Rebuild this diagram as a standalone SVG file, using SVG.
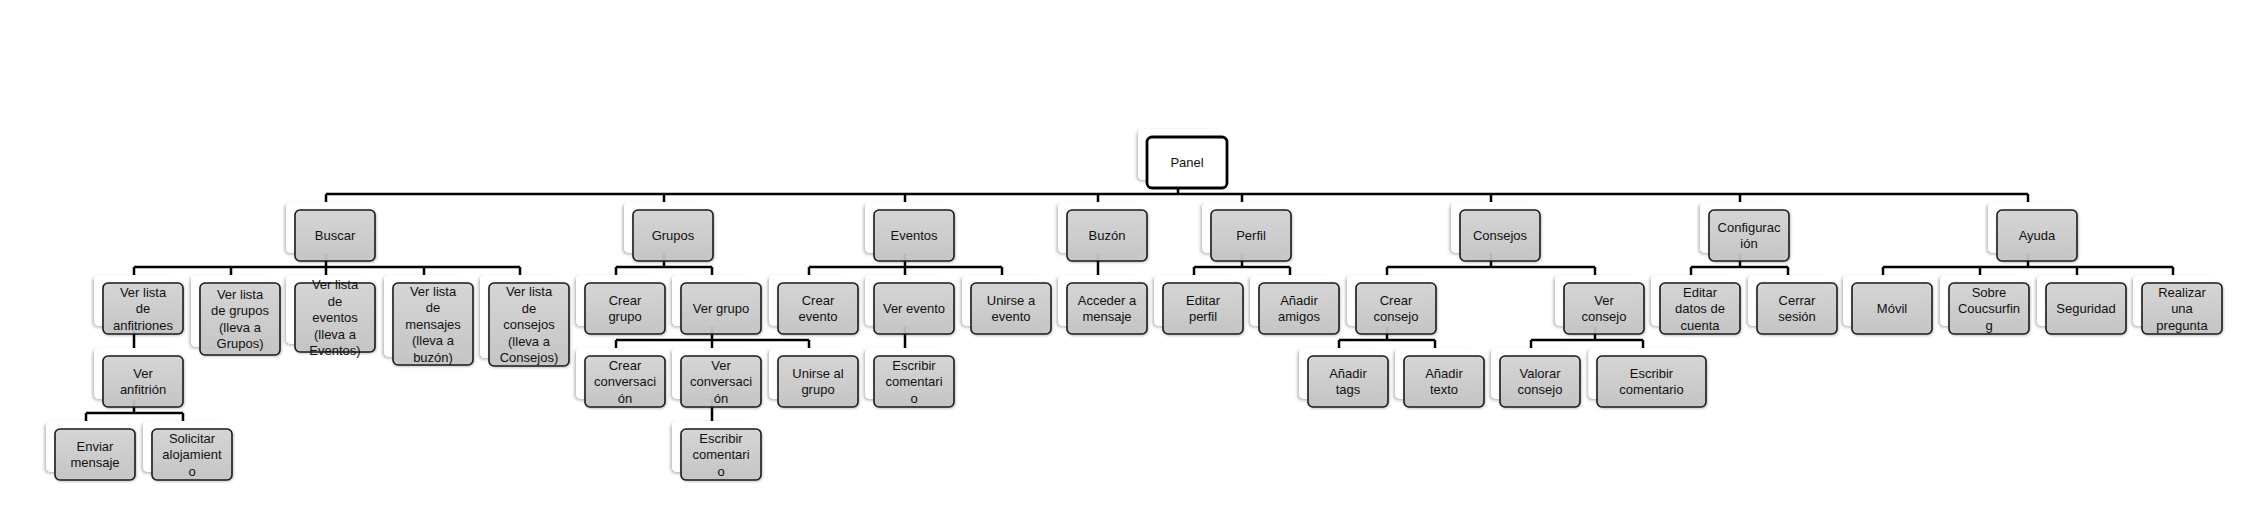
<svg xmlns="http://www.w3.org/2000/svg" width="2246" height="508" viewBox="0 0 2246 508">
<defs>
<linearGradient id="gf" x1="0" y1="0" x2="0" y2="1">
<stop offset="0" stop-color="#d4d4d4"/>
<stop offset="1" stop-color="#c3c3c3"/>
</linearGradient>
<filter id="sh" x="-20%" y="-20%" width="140%" height="140%">
<feDropShadow dx="-1.5" dy="1.5" stdDeviation="1.8" flood-color="#000" flood-opacity="0.28"/>
</filter>
<filter id="sh2" x="-20%" y="-20%" width="140%" height="140%">
<feDropShadow dx="0.8" dy="1" stdDeviation="0.8" flood-color="#000" flood-opacity="0.25"/>
</filter>
</defs>
<style>
.bk{fill:#fff;filter:url(#sh)}
.fr{fill:url(#gf);fill-opacity:0.93;stroke:#1c1c1c;stroke-width:1.6;filter:url(#sh2)}
.pn{fill:#fff;stroke:#000;stroke-width:2.8}
.t{font-family:"Liberation Sans",Arial,sans-serif;font-size:13px;fill:#111;text-anchor:middle}
.c{fill:none;stroke:#000;stroke-width:2.5}
</style>
<rect width="2246" height="508" fill="#fff"/>
<g id="connectors" class="c">
<path class="c" d="M1178 180V194M326 194H2028M326 194V202M664 194V202M905 194V202M1098 194V202M1242 194V202M1491 194V202M1740 194V202M2028 194V202"/>
<path class="c" d="M326 253V267M134 267H520M134 267V275M231 267V275M326 267V275M424 267V275M520 267V275"/>
<path class="c" d="M664 253V267M616 267H712M616 267V275M712 267V275"/>
<path class="c" d="M905 253V267M809 267H1002M809 267V275M905 267V275M1002 267V275"/>
<path class="c" d="M1098 253V275"/>
<path class="c" d="M1242 253V267M1194 267H1290M1194 267V275M1290 267V275"/>
<path class="c" d="M1491 253V267M1387 267H1595M1387 267V275M1595 267V275"/>
<path class="c" d="M1740 253V267M1691 267H1788M1691 267V275M1788 267V275"/>
<path class="c" d="M2028 253V267M1883 267H2173M1883 267V275M1980 267V275M2077 267V275M2173 267V275"/>
<path class="c" d="M134 326V348"/>
<path class="c" d="M712 326V340M616 340H809M616 340V348M712 340V348M809 340V348"/>
<path class="c" d="M905 326V348"/>
<path class="c" d="M1387 326V340M1339 340H1435M1339 340V348M1435 340V348"/>
<path class="c" d="M1595 326V340M1531 340H1643M1531 340V348M1643 340V348"/>
<path class="c" d="M134 399V413M86 413H183M86 413V421M183 413V421"/>
<path class="c" d="M712 399V421"/>
</g>
<g id="panel"><rect class="bk" x="1138" y="129" width="80" height="51" rx="5"/><rect class="pn" x="1147" y="137" width="80" height="51" rx="5"/><text class="t" x="1187" y="167">Panel</text></g>
<g id="buscar"><rect class="bk" x="286" y="202" width="80" height="51" rx="5"/><rect class="fr" x="295" y="210" width="80" height="51" rx="5"/><text class="t" x="335" y="240">Buscar</text></g>
<g id="grupos"><rect class="bk" x="624" y="202" width="80" height="51" rx="5"/><rect class="fr" x="633" y="210" width="80" height="51" rx="5"/><text class="t" x="673" y="240">Grupos</text></g>
<g id="eventos"><rect class="bk" x="865" y="202" width="80" height="51" rx="5"/><rect class="fr" x="874" y="210" width="80" height="51" rx="5"/><text class="t" x="914" y="240">Eventos</text></g>
<g id="buzon"><rect class="bk" x="1058" y="202" width="80" height="51" rx="5"/><rect class="fr" x="1067" y="210" width="80" height="51" rx="5"/><text class="t" x="1107" y="240">Buzón</text></g>
<g id="perfil"><rect class="bk" x="1202" y="202" width="80" height="51" rx="5"/><rect class="fr" x="1211" y="210" width="80" height="51" rx="5"/><text class="t" x="1251" y="240">Perfil</text></g>
<g id="consejos"><rect class="bk" x="1451" y="202" width="80" height="51" rx="5"/><rect class="fr" x="1460" y="210" width="80" height="51" rx="5"/><text class="t" x="1500" y="240">Consejos</text></g>
<g id="configuracion"><rect class="bk" x="1700" y="202" width="80" height="51" rx="5"/><rect class="fr" x="1709" y="210" width="80" height="51" rx="5"/><text class="t" x="1749" y="231.75">Configurac<tspan x="1749" dy="16.5">ión</tspan></text></g>
<g id="ayuda"><rect class="bk" x="1988" y="202" width="80" height="51" rx="5"/><rect class="fr" x="1997" y="210" width="80" height="51" rx="5"/><text class="t" x="2037" y="240">Ayuda</text></g>
<g id="ver-lista-anfitriones"><rect class="bk" x="94" y="275" width="80" height="51" rx="5"/><rect class="fr" x="103" y="283" width="80" height="51" rx="5"/><text class="t" x="143" y="296.5">Ver lista<tspan x="143" dy="16.5">de</tspan><tspan x="143" dy="16.5">anfitriones</tspan></text></g>
<g id="ver-lista-grupos"><rect class="bk" x="191" y="275" width="80" height="72" rx="5"/><rect class="fr" x="200" y="283" width="80" height="72" rx="5"/><text class="t" x="240" y="298.75">Ver lista<tspan x="240" dy="16.5">de grupos</tspan><tspan x="240" dy="16.5">(lleva a</tspan><tspan x="240" dy="16.5">Grupos)</tspan></text></g>
<g id="ver-lista-eventos"><rect class="bk" x="286" y="275" width="80" height="69" rx="5"/><rect class="fr" x="295" y="283" width="80" height="69" rx="5"/><text class="t" x="335" y="289">Ver lista<tspan x="335" dy="16.5">de</tspan><tspan x="335" dy="16.5">eventos</tspan><tspan x="335" dy="16.5">(lleva a</tspan><tspan x="335" dy="16.5">Eventos)</tspan></text></g>
<g id="ver-lista-mensajes"><rect class="bk" x="384" y="275" width="80" height="82" rx="5"/><rect class="fr" x="393" y="283" width="80" height="82" rx="5"/><text class="t" x="433" y="295.5">Ver lista<tspan x="433" dy="16.5">de</tspan><tspan x="433" dy="16.5">mensajes</tspan><tspan x="433" dy="16.5">(lleva a</tspan><tspan x="433" dy="16.5">buzón)</tspan></text></g>
<g id="ver-lista-consejos"><rect class="bk" x="480" y="275" width="80" height="83" rx="5"/><rect class="fr" x="489" y="283" width="80" height="83" rx="5"/><text class="t" x="529" y="296">Ver lista<tspan x="529" dy="16.5">de</tspan><tspan x="529" dy="16.5">consejos</tspan><tspan x="529" dy="16.5">(lleva a</tspan><tspan x="529" dy="16.5">Consejos)</tspan></text></g>
<g id="crear-grupo"><rect class="bk" x="576" y="275" width="80" height="51" rx="5"/><rect class="fr" x="585" y="283" width="80" height="51" rx="5"/><text class="t" x="625" y="304.75">Crear<tspan x="625" dy="16.5">grupo</tspan></text></g>
<g id="ver-grupo"><rect class="bk" x="672" y="275" width="80" height="51" rx="5"/><rect class="fr" x="681" y="283" width="80" height="51" rx="5"/><text class="t" x="721" y="313">Ver grupo</text></g>
<g id="crear-evento"><rect class="bk" x="769" y="275" width="80" height="51" rx="5"/><rect class="fr" x="778" y="283" width="80" height="51" rx="5"/><text class="t" x="818" y="304.75">Crear<tspan x="818" dy="16.5">evento</tspan></text></g>
<g id="ver-evento"><rect class="bk" x="865" y="275" width="80" height="51" rx="5"/><rect class="fr" x="874" y="283" width="80" height="51" rx="5"/><text class="t" x="914" y="313">Ver evento</text></g>
<g id="unirse-evento"><rect class="bk" x="962" y="275" width="80" height="51" rx="5"/><rect class="fr" x="971" y="283" width="80" height="51" rx="5"/><text class="t" x="1011" y="304.75">Unirse a<tspan x="1011" dy="16.5">evento</tspan></text></g>
<g id="acceder-mensaje"><rect class="bk" x="1058" y="275" width="80" height="51" rx="5"/><rect class="fr" x="1067" y="283" width="80" height="51" rx="5"/><text class="t" x="1107" y="304.75">Acceder a<tspan x="1107" dy="16.5">mensaje</tspan></text></g>
<g id="editar-perfil"><rect class="bk" x="1154" y="275" width="80" height="51" rx="5"/><rect class="fr" x="1163" y="283" width="80" height="51" rx="5"/><text class="t" x="1203" y="304.75">Editar<tspan x="1203" dy="16.5">perfil</tspan></text></g>
<g id="anadir-amigos"><rect class="bk" x="1250" y="275" width="80" height="51" rx="5"/><rect class="fr" x="1259" y="283" width="80" height="51" rx="5"/><text class="t" x="1299" y="304.75">Añadir<tspan x="1299" dy="16.5">amigos</tspan></text></g>
<g id="crear-consejo"><rect class="bk" x="1347" y="275" width="80" height="51" rx="5"/><rect class="fr" x="1356" y="283" width="80" height="51" rx="5"/><text class="t" x="1396" y="304.75">Crear<tspan x="1396" dy="16.5">consejo</tspan></text></g>
<g id="ver-consejo"><rect class="bk" x="1555" y="275" width="80" height="51" rx="5"/><rect class="fr" x="1564" y="283" width="80" height="51" rx="5"/><text class="t" x="1604" y="304.75">Ver<tspan x="1604" dy="16.5">consejo</tspan></text></g>
<g id="editar-datos"><rect class="bk" x="1651" y="275" width="80" height="51" rx="5"/><rect class="fr" x="1660" y="283" width="80" height="51" rx="5"/><text class="t" x="1700" y="296.5">Editar<tspan x="1700" dy="16.5">datos de</tspan><tspan x="1700" dy="16.5">cuenta</tspan></text></g>
<g id="cerrar-sesion"><rect class="bk" x="1748" y="275" width="80" height="51" rx="5"/><rect class="fr" x="1757" y="283" width="80" height="51" rx="5"/><text class="t" x="1797" y="304.75">Cerrar<tspan x="1797" dy="16.5">sesión</tspan></text></g>
<g id="movil"><rect class="bk" x="1843" y="275" width="80" height="51" rx="5"/><rect class="fr" x="1852" y="283" width="80" height="51" rx="5"/><text class="t" x="1892" y="313">Móvil</text></g>
<g id="sobre"><rect class="bk" x="1940" y="275" width="80" height="51" rx="5"/><rect class="fr" x="1949" y="283" width="80" height="51" rx="5"/><text class="t" x="1989" y="296.5">Sobre<tspan x="1989" dy="16.5">Coucsurfin</tspan><tspan x="1989" dy="16.5">g</tspan></text></g>
<g id="seguridad"><rect class="bk" x="2037" y="275" width="80" height="51" rx="5"/><rect class="fr" x="2046" y="283" width="80" height="51" rx="5"/><text class="t" x="2086" y="313">Seguridad</text></g>
<g id="realizar-pregunta"><rect class="bk" x="2133" y="275" width="80" height="51" rx="5"/><rect class="fr" x="2142" y="283" width="80" height="51" rx="5"/><text class="t" x="2182" y="296.5">Realizar<tspan x="2182" dy="16.5">una</tspan><tspan x="2182" dy="16.5">pregunta</tspan></text></g>
<g id="ver-anfitrion"><rect class="bk" x="94" y="348" width="80" height="51" rx="5"/><rect class="fr" x="103" y="356" width="80" height="51" rx="5"/><text class="t" x="143" y="377.75">Ver<tspan x="143" dy="16.5">anfitrión</tspan></text></g>
<g id="crear-conversacion"><rect class="bk" x="576" y="348" width="80" height="51" rx="5"/><rect class="fr" x="585" y="356" width="80" height="51" rx="5"/><text class="t" x="625" y="369.5">Crear<tspan x="625" dy="16.5">conversaci</tspan><tspan x="625" dy="16.5">ón</tspan></text></g>
<g id="ver-conversacion"><rect class="bk" x="672" y="348" width="80" height="51" rx="5"/><rect class="fr" x="681" y="356" width="80" height="51" rx="5"/><text class="t" x="721" y="369.5">Ver<tspan x="721" dy="16.5">conversaci</tspan><tspan x="721" dy="16.5">ón</tspan></text></g>
<g id="unirse-grupo"><rect class="bk" x="769" y="348" width="80" height="51" rx="5"/><rect class="fr" x="778" y="356" width="80" height="51" rx="5"/><text class="t" x="818" y="377.75">Unirse al<tspan x="818" dy="16.5">grupo</tspan></text></g>
<g id="escribir-comentario-evento"><rect class="bk" x="865" y="348" width="80" height="51" rx="5"/><rect class="fr" x="874" y="356" width="80" height="51" rx="5"/><text class="t" x="914" y="369.5">Escribir<tspan x="914" dy="16.5">comentari</tspan><tspan x="914" dy="16.5">o</tspan></text></g>
<g id="anadir-tags"><rect class="bk" x="1299" y="348" width="80" height="51" rx="5"/><rect class="fr" x="1308" y="356" width="80" height="51" rx="5"/><text class="t" x="1348" y="377.75">Añadir<tspan x="1348" dy="16.5">tags</tspan></text></g>
<g id="anadir-texto"><rect class="bk" x="1395" y="348" width="80" height="51" rx="5"/><rect class="fr" x="1404" y="356" width="80" height="51" rx="5"/><text class="t" x="1444" y="377.75">Añadir<tspan x="1444" dy="16.5">texto</tspan></text></g>
<g id="valorar-consejo"><rect class="bk" x="1491" y="348" width="80" height="51" rx="5"/><rect class="fr" x="1500" y="356" width="80" height="51" rx="5"/><text class="t" x="1540" y="377.75">Valorar<tspan x="1540" dy="16.5">consejo</tspan></text></g>
<g id="escribir-comentario-consejo"><rect class="bk" x="1588.5" y="348" width="109" height="51" rx="5"/><rect class="fr" x="1597" y="356" width="109" height="51" rx="5"/><text class="t" x="1651.5" y="377.75">Escribir<tspan x="1651.5" dy="16.5">comentario</tspan></text></g>
<g id="enviar-mensaje"><rect class="bk" x="46" y="421" width="80" height="51" rx="5"/><rect class="fr" x="55" y="429" width="80" height="51" rx="5"/><text class="t" x="95" y="450.75">Enviar<tspan x="95" dy="16.5">mensaje</tspan></text></g>
<g id="solicitar-alojamiento"><rect class="bk" x="143" y="421" width="80" height="51" rx="5"/><rect class="fr" x="152" y="429" width="80" height="51" rx="5"/><text class="t" x="192" y="442.5">Solicitar<tspan x="192" dy="16.5">alojamient</tspan><tspan x="192" dy="16.5">o</tspan></text></g>
<g id="escribir-comentario-conversacion"><rect class="bk" x="672" y="421" width="80" height="51" rx="5"/><rect class="fr" x="681" y="429" width="80" height="51" rx="5"/><text class="t" x="721" y="442.5">Escribir<tspan x="721" dy="16.5">comentari</tspan><tspan x="721" dy="16.5">o</tspan></text></g>
</svg>
